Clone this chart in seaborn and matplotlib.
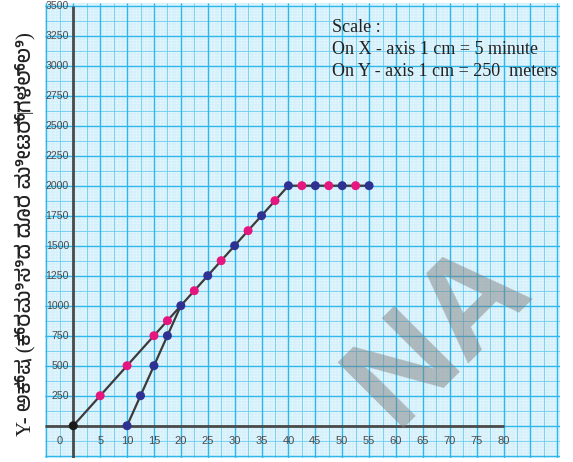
import numpy as np
import matplotlib.pyplot as plt
import seaborn as sns
from matplotlib import font_manager

sns.set_style("white")

# ---- data (time in minutes, distance in metres) ----
pink_time = [5, 10, 15, 17.5, 22.5, 27.5, 32.5, 37.5, 42.5, 47.5, 52.5]
pink_dist = [250, 500, 750, 875, 1125, 1375, 1625, 1875, 2000, 2000, 2000]
navy_time = [10, 12.5, 15, 17.5, 20, 25, 30, 35, 40, 45, 50, 55]
navy_dist = [0, 250, 500, 750, 1000, 1250, 1500, 1750, 2000, 2000, 2000, 2000]
walk_time = [0, 40, 55]
walk_dist = [0, 2000, 2000]
run_time = [10, 20]
run_dist = [0, 1000]
start_time = [0]
start_dist = [0]

x_ticks = list(range(0, 85, 5))
y_ticks = list(range(250, 3750, 250))
y_label = "Y- ಅಕ್ಷ (ಕ್ರಮಿಸಿದ ದೂರ ಮೀಟರ್‌ಗಳಲ್ಲಿ)"
scale_lines = ["Scale :", "On X - axis 1 cm = 5 minute", "On Y - axis 1 cm = 250  meters"]

PINK = "#E5177E"
NAVY = "#2E3192"
LINE = "#3b3b3b"

# kannada font if there is one
kn_fonts = [f.name for f in font_manager.fontManager.ttflist if "Kannada" in f.name]
label_family = ["Liberation Serif"] + kn_fonts[:1] + ["DejaVu Sans"]

fig = plt.figure(figsize=(5.73, 4.62), dpi=100)
ax = fig.add_axes([45 / 573, 4 / 462, 515 / 573, 455 / 462])
ax.set_facecolor("#E6F6FD")

x0, x1 = -5.26, 90.5
y0, y1 = -269, 3522

# graph paper
ax.vlines(np.arange(-5, 90.6, 0.5), y0, y1, color="#BFE9F9", lw=0.3, zorder=0)
ax.hlines(np.arange(-250, 3526, 25), x0, x1, color="#BFE9F9", lw=0.3, zorder=0)
ax.vlines(np.arange(-5, 90.6, 2.5), y0, y1, color="#6BCDF0", lw=0.6, zorder=0)
ax.hlines(np.arange(-250, 3526, 125), x0, x1, color="#6BCDF0", lw=0.6, zorder=0)
ax.vlines(np.arange(-5, 90.6, 5), y0, y1, color="#2DB7EA", lw=1.0, zorder=0)
ax.hlines(np.arange(-250, 3526, 250), x0, x1, color="#2DB7EA", lw=1.0, zorder=0)

# axes lines
ax.hlines(0, x0, x_ticks[-1], color="#4a4a4a", lw=2, zorder=1)
ax.vlines(0, y0, y_ticks[-1], color="#4a4a4a", lw=2, zorder=1)

sns.lineplot(x=walk_time, y=walk_dist, color=LINE, lw=1.6, sort=False, estimator=None, ax=ax, zorder=2)
sns.lineplot(x=run_time, y=run_dist, color=LINE, lw=1.6, sort=False, estimator=None, ax=ax, zorder=2)

sns.scatterplot(x=pink_time, y=pink_dist, color=PINK, s=42, edgecolor="none", ax=ax, zorder=3)
sns.scatterplot(x=navy_time, y=navy_dist, color=NAVY, s=42, edgecolor="none", ax=ax, zorder=3)
sns.scatterplot(x=start_time, y=start_dist, color="#1a1a1a", s=42, edgecolor="none", ax=ax, zorder=3)

# tick labels sit inside the paper
for t in x_ticks:
    ax.text(t if t else -2.6, -127, str(t), ha="center", va="center",
            fontsize=8, color="#4a4a4a", family="Liberation Sans", zorder=4)
for t in y_ticks:
    ax.text(-0.8, t, str(t), ha="right", va="center",
            fontsize=7.6, color="#4a4a4a", family="Liberation Sans", zorder=4)

ax.set_xlim(x0, x1)
ax.set_ylim(y0, y1)
ax.set_xticks([])
ax.set_yticks([])
sns.despine(ax=ax, left=True, bottom=True)

# scale note
for i, s in enumerate(scale_lines):
    fig.text(332 / 573, 1 - (27 + 22 * i) / 462, s, ha="left", va="center",
             fontsize=13, family="Liberation Serif", color="#222222")

# y axis title (Kannada)
fig.text(25 / 573, 1 - 234 / 462, y_label, rotation=90, ha="center", va="center",
         fontsize=15, family=label_family, color="#222222")

# watermark
fig.text(440 / 573, 1 - 334 / 462, "NA", rotation=45, ha="center", va="center",
         rotation_mode="anchor", fontsize=98, family="Liberation Sans",
         weight="bold", color="#808080", alpha=0.5, zorder=10)

fig.savefig("out.png", dpi=100)
